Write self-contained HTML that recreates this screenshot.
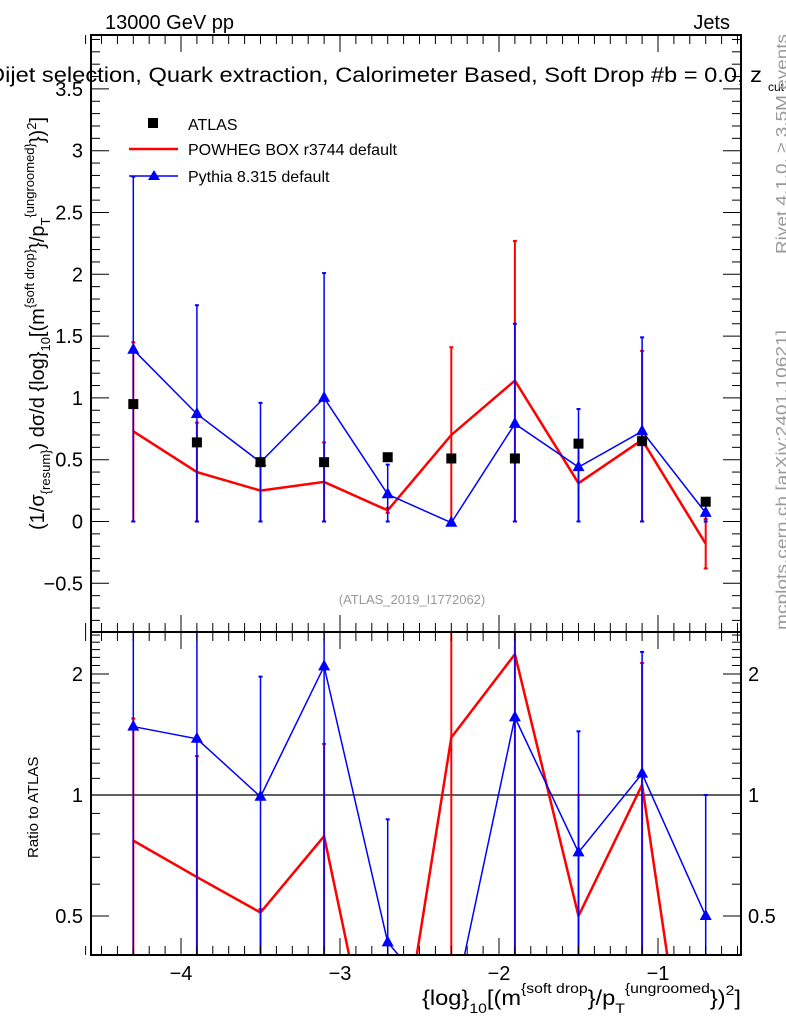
<!DOCTYPE html>
<html><head><meta charset="utf-8"><style>
html,body{margin:0;padding:0;background:#fff;width:786px;height:1024px;overflow:hidden}
svg{display:block}
svg text{font-family:"Liberation Sans",sans-serif}
</style></head><body>
<svg id="c" width="786" height="1024" overflow="hidden" xmlns="http://www.w3.org/2000/svg">
<defs>
<clipPath id="cm"><rect x="91" y="35" width="650" height="597"/></clipPath>
<clipPath id="cr"><rect x="91" y="632" width="650" height="323"/></clipPath>
</defs>
<g id="main" clip-path="url(#cm)"></g>
<g id="ratio" clip-path="url(#cr)"></g>
<g id="axes"></g>
<text x="105" y="29" font-size="20">13000 GeV pp</text>
<text x="730" y="29" font-size="20" text-anchor="end">Jets</text>
<text x="-12" y="82" font-size="21" textLength="774" lengthAdjust="spacingAndGlyphs">Dijet selection, Quark extraction, Calorimeter Based, Soft Drop #b = 0.0, z</text>
<text x="768" y="91" font-size="12">cut</text>
<text x="412" y="604" font-size="13" fill="#999" text-anchor="middle">(ATLAS_2019_I1772062)</text>
<text transform="translate(787,254) rotate(-90)" font-size="16" fill="#999" textLength="220" lengthAdjust="spacingAndGlyphs">Rivet 4.1.0, ≥ 3.5M events</text>
<text transform="translate(787,630) rotate(-90)" font-size="16" fill="#999" textLength="300" lengthAdjust="spacingAndGlyphs">mcplots.cern.ch [arXiv:2401.10621]</text>
<text transform="translate(44,530) rotate(-90)" font-size="20">(1/σ<tspan font-size="13" dy="6">{resum}</tspan><tspan dy="-6">) dσ/d {log}</tspan><tspan font-size="13" dy="6">10</tspan><tspan dy="-6">[(m</tspan><tspan font-size="13" dy="-10">{soft drop}</tspan><tspan dy="10">}/p</tspan><tspan font-size="13" dy="6">T</tspan><tspan font-size="13" dy="-16">{ungroomed}</tspan><tspan dy="10">})</tspan><tspan font-size="13" dy="-8">2</tspan><tspan dy="8">]</tspan></text>
<text transform="translate(38,858) rotate(-90)" font-size="15">Ratio to ATLAS</text>
<text x="422" y="1005" font-size="21" textLength="319" lengthAdjust="spacingAndGlyphs">{log}<tspan font-size="14" dy="8">10</tspan><tspan dy="-8">[(m</tspan><tspan font-size="14" dy="-12">{soft drop</tspan><tspan dy="12">}/p</tspan><tspan font-size="14" dy="8">T</tspan><tspan font-size="14" dy="-20">{ungroomed</tspan><tspan dy="12">})</tspan><tspan font-size="14" dy="-10">2</tspan><tspan dy="10">]</tspan></text>
<g>
<rect x="148" y="118" width="10" height="10" fill="#000"/>
<text x="188" y="130" font-size="16">ATLAS</text>
<line x1="129" y1="149" x2="178" y2="149" stroke="#f00" stroke-width="2.5"/>
<text x="188" y="155" font-size="16">POWHEG BOX r3744 default</text>
<line x1="129" y1="176" x2="178" y2="176" stroke="#00f" stroke-width="1.5"/>
<polygon points="154,170 148,180 160,180" fill="#00f"/>
<text x="188" y="182" font-size="16">Pythia 8.315 default</text>
</g>
</svg>
<script>
const xCenters=[-4.3,-3.9,-3.5,-3.1,-2.7,-2.3,-1.9,-1.5,-1.1,-0.7];
const atlas=[0.95,0.64,0.48,0.48,0.52,0.51,0.51,0.63,0.65,0.16];
const powheg=[0.73,0.40,0.25,0.32,0.09,0.70,1.14,0.31,0.66,-0.18];
const powhegLo=[0,0,0,0,0.07,0,0,0,0,-0.38];
const powhegHi=[1.45,0.80,0.48,0.64,0.11,1.41,2.27,0.63,1.38,0.02];
const pythia=[1.39,0.87,0.48,1.00,0.22,-0.01,0.79,0.44,0.73,0.07];
const pythiaLo=[0,0,0,0,0,-0.02,0,0,0,0];
const pythiaHi=[2.79,1.75,0.96,2.01,0.46,0.01,1.60,0.91,1.49,0.16];
const rPowheg=[0.77,0.625,0.51,0.79,0.14,1.39,2.24,0.50,1.06,0.09];
const rPowhegHi=[1.55,1.25,0.52,1.34,0.2,5,5,1.0,2.13,0.1];
const rPythia=[1.48,1.38,0.99,2.09,0.43,0.28,1.56,0.72,1.13,0.5];
const rPythiaHi=[5,5,1.97,5,0.87,0.3,5,1.44,2.27,1.0];
const mainYTicks=[-0.5,0,0.5,1,1.5,2,2.5,3,3.5];
const ratioYTicks=[0.5,1,2];
const xTicks=[-4,-3,-2,-1];

const NS="http://www.w3.org/2000/svg";
const X=v=>181+(v+4)*159;
const Y=v=>521.5-v*123.6;
const R=v=>795-Math.log2(Math.max(v,0.01))*121;
function el(p,t,a){const e=document.createElementNS(NS,t);for(const k in a)e.setAttribute(k,a[k]);p.appendChild(e);return e;}
const main=document.getElementById('main'),ratio=document.getElementById('ratio'),axes=document.getElementById('axes');

function series(g,xs,vals,lo,hi,yf,col,w,name,marker){
  for(let i=0;i<xs.length;i++){
    const e=el(g,'line',{x1:X(xs[i]),x2:X(xs[i]),y1:yf(lo[i]),y2:yf(hi[i]),stroke:col,'stroke-width':w<2?1.5:2});
    
    
    for(const v of [lo[i],hi[i]]){const c=el(g,'line',{x1:X(xs[i])-2,x2:X(xs[i])+2,y1:yf(v),y2:yf(v),stroke:col,'stroke-width':2});
      
      }
  }
  const p=el(g,'polyline',{points:xs.map((x,i)=>X(x)+','+yf(vals[i])).join(' '),fill:'none',stroke:col,'stroke-width':w});
  
  
  if(marker){for(let i=0;i<xs.length;i++){const x=X(xs[i]),y=yf(vals[i]);
    const m=el(g,'polygon',{points:`${x},${y-7} ${x-6},${y+4} ${x+6},${y+4}`,fill:col});
    
    }}
}
series(main,xCenters,powheg,powhegLo,powhegHi,Y,'#f00',2.5,'powheg',false);
series(main,xCenters,pythia,pythiaLo,pythiaHi,Y,'#00f',1.5,'pythia',true);
for(let i=0;i<xCenters.length;i++){
  const r=el(main,'rect',{x:X(xCenters[i])-5,y:Y(atlas[i])-5,width:10,height:10,fill:'#000'});
  
  
}
const one=el(ratio,'line',{x1:91,x2:741,y1:R(1),y2:R(1),stroke:'#000','stroke-width':1.2});


const zeros=xCenters.map(()=>0.01);
series(ratio,xCenters,rPowheg,zeros,rPowhegHi,R,'#f00',2.5,'ratio-powheg',false);
series(ratio,xCenters,rPythia,zeros,rPythiaHi,R,'#00f',1.5,'ratio-pythia',true);

for(const [t,b] of [[35,632],[632,955]]){
  const f=el(axes,'rect',{x:91,y:t,width:650,height:b-t,fill:'none',stroke:'#000','stroke-width':2});
  
  
}
for(let k=-46;k<=-5;k++){const v=k/10,x=X(v),maj=Math.abs(v-Math.round(v))<1e-6,L=maj?17:9;
  for(const [t,b] of [[35,632],[632,955]]){
    el(axes,'line',{x1:x,x2:x,y1:b,y2:b-L,stroke:'#000','stroke-width':1});
    el(axes,'line',{x1:x,x2:x,y1:t,y2:t+L,stroke:'#000','stroke-width':1});
  }}
xTicks.forEach(v=>{const t=el(axes,'text',{x:X(v),y:980,'font-size':20,'text-anchor':'middle'});t.textContent='−'+Math.abs(v);
  
  });
for(let k=-8;k<=39;k++){const v=k/10,y=Y(v);if(y<35||y>632)continue;const L=k%5==0?18:9;
  el(axes,'line',{x1:91,x2:91+L,y1:y,y2:y,stroke:'#000'});el(axes,'line',{x1:741,x2:741-L,y1:y,y2:y,stroke:'#000'});}
mainYTicks.forEach(v=>{const t=el(axes,'text',{x:83,y:Y(v)+7,'font-size':20,'text-anchor':'end'});t.textContent=(v<0?'−':'')+Math.abs(v);
  
  });
[0.4,0.5,0.6,0.7,0.8,0.9,1,1.1,1.2,1.3,1.4,1.5,1.6,1.7,1.8,1.9,2,2.1,2.2,2.3,2.4,2.5].forEach(v=>{const y=R(v);if(y<632||y>955)return;
  const L=(v==0.5||v==1||v==2)?18:9;
  el(axes,'line',{x1:91,x2:91+L,y1:y,y2:y,stroke:'#000'});el(axes,'line',{x1:741,x2:741-L,y1:y,y2:y,stroke:'#000'});});
ratioYTicks.forEach(v=>{for(const [x,a] of [[83,'end'],[748,'start']]){const t=el(axes,'text',{x:x,y:R(v)+7,'font-size':20,'text-anchor':a});t.textContent=v;
  
  }});
</script>
</body></html>
